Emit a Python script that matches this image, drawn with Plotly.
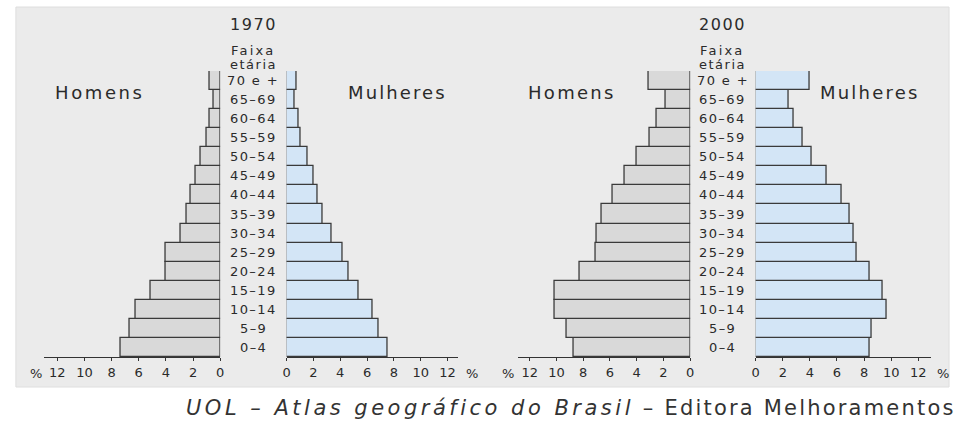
import plotly.graph_objects as go

W, H = 959, 426

ages = ["0–4", "5–9", "10–14", "15–19", "20–24", "25–29", "30–34", "35–39",
        "40–44", "45–49", "50–54", "55–59", "60–64", "65–69", "70 e +"]

men_1970 = [7.35, 6.7, 6.2, 5.1, 4.0, 4.0, 2.9, 2.5, 2.2, 1.8, 1.45, 1.0, 0.75, 0.5, 0.8]
women_1970 = [7.55, 6.9, 6.45, 5.35, 4.65, 4.2, 3.35, 2.65, 2.3, 2.0, 1.55, 1.05, 0.9, 0.6, 0.75]
men_2000 = [8.7, 9.2, 10.1, 10.1, 8.3, 7.1, 7.0, 6.6, 5.8, 4.9, 4.0, 3.0, 2.5, 1.85, 3.1]
women_2000 = [8.4, 8.55, 9.7, 9.4, 8.4, 7.45, 7.2, 6.95, 6.35, 5.25, 4.15, 3.5, 2.8, 2.4, 4.0]

tick_vals = [0, 2, 4, 6, 8, 10, 12]
tick_text = ["0", "2", "4", "6", "8", "10", "12"]
years = ["1970", "2000"]
source_italic = "UOL – Atlas geográfico do Brasil"
source_rest = " – Editora Melhoramentos"

FONT = "DejaVu Sans"
TXT = "#2a2a2a"
MEN = "#d9d9d9"
WOMEN = "#d3e5f6"
EDGE = "#3a3a3a"

def px(x):
    return x / W

def py(y):
    return 1 - y / H

# axis geometry (pixels)
axes = [
    dict(name="x", dom=(40, 218), rng=[13.0, 0]),
    dict(name="x2", dom=(285, 458), rng=[0, 12.8]),
    dict(name="x3", dom=(518, 692), rng=[12.9, 0]),
    dict(name="x4", dom=(758, 935), rng=[0, 12.95]),
]
series = [(men_1970, MEN), (women_1970, WOMEN), (men_2000, MEN), (women_2000, WOMEN)]

fig = go.Figure()
for ax, (vals, col) in zip(axes, series):
    fig.add_trace(go.Bar(
        x=vals, y=ages, orientation="h", xaxis=ax["name"], yaxis="y",
        marker=dict(color=col, line=dict(color=EDGE, width=1.3)),
        width=1.0, showlegend=False, hoverinfo="x+y",
    ))

layout = dict(
    width=W, height=H,
    margin=dict(l=0, r=0, t=0, b=0),
    paper_bgcolor="white",
    plot_bgcolor="rgba(0,0,0,0)",
    bargap=0,
    font=dict(family=FONT, color=TXT, size=13),
    yaxis=dict(domain=[py(357), py(71)], range=[-0.5, 14.5], visible=False,
               type="category", categoryorder="array", categoryarray=ages,
               fixedrange=True),
)
for i, ax in enumerate(axes):
    key = "xaxis" if i == 0 else "xaxis%d" % (i + 1)
    layout[key] = dict(
        domain=[px(ax["dom"][0]), px(ax["dom"][1])], range=ax["rng"],
        anchor="y", showline=True, linecolor="#333", linewidth=1.3,
        ticks="outside", ticklen=3, tickcolor="#333", tickwidth=1.2,
        tickvals=tick_vals, ticktext=tick_text, showgrid=False, zeroline=False,
        tickfont=dict(size=13, color=TXT, family=FONT), fixedrange=True,
    )
fig.update_layout(**layout)

# grey panel
fig.add_shape(type="rect", xref="paper", yref="paper", layer="below",
              x0=px(12), x1=px(953), y0=py(387), y1=py(7),
              fillcolor="#ebebeb", line=dict(color="#dedede", width=1))

ann = []
def sp(text, ls):
    return '<span style="letter-spacing:%spx">%s</span>' % (ls, text)

centers = [(218 + 285) / 2, (692 + 758) / 2]
for c, yr in zip(centers, years):
    ann.append(dict(x=px(c), y=py(24), text=sp(yr, 1.6), font=dict(size=16)))
    ann.append(dict(x=px(c), y=py(50), text=sp("Faixa", 2.2), font=dict(size=13)))
    ann.append(dict(x=px(c), y=py(65), text=sp("etária", 1.5), font=dict(size=13)))
    for a in ages:
        ann.append(dict(x=px(c), y=a, yref="y", text=sp(a, 1.4), font=dict(size=13)))

for x, t, ls in [(97, "Homens", 2.6), (397, "Mulheres", 2.1),
                 (573, "Homens", 2.3), (873, "Mulheres", 2.2)]:
    ann.append(dict(x=px(x), y=py(92), text=sp(t, ls), font=dict(size=18)))

for x in [32, 472, 508, 947]:
    ann.append(dict(x=px(x), y=py(373), text="%", font=dict(size=13)))

ann.append(dict(x=px(182), y=py(408), xanchor="left",
                text="<i>" + sp(source_italic, 3.5) + "</i>" + sp(source_rest, 2.2),
                font=dict(size=21, color="#333")))

for a in ann:
    a.setdefault("xref", "paper")
    a.setdefault("yref", "paper")
    a.setdefault("showarrow", False)
    a.setdefault("xanchor", "center")
    a.setdefault("yanchor", "middle")
fig.update_layout(annotations=ann)

fig.write_html("out.html", config=dict(displayModeBar=False),
               post_script="document.body.style.margin='0px';")
